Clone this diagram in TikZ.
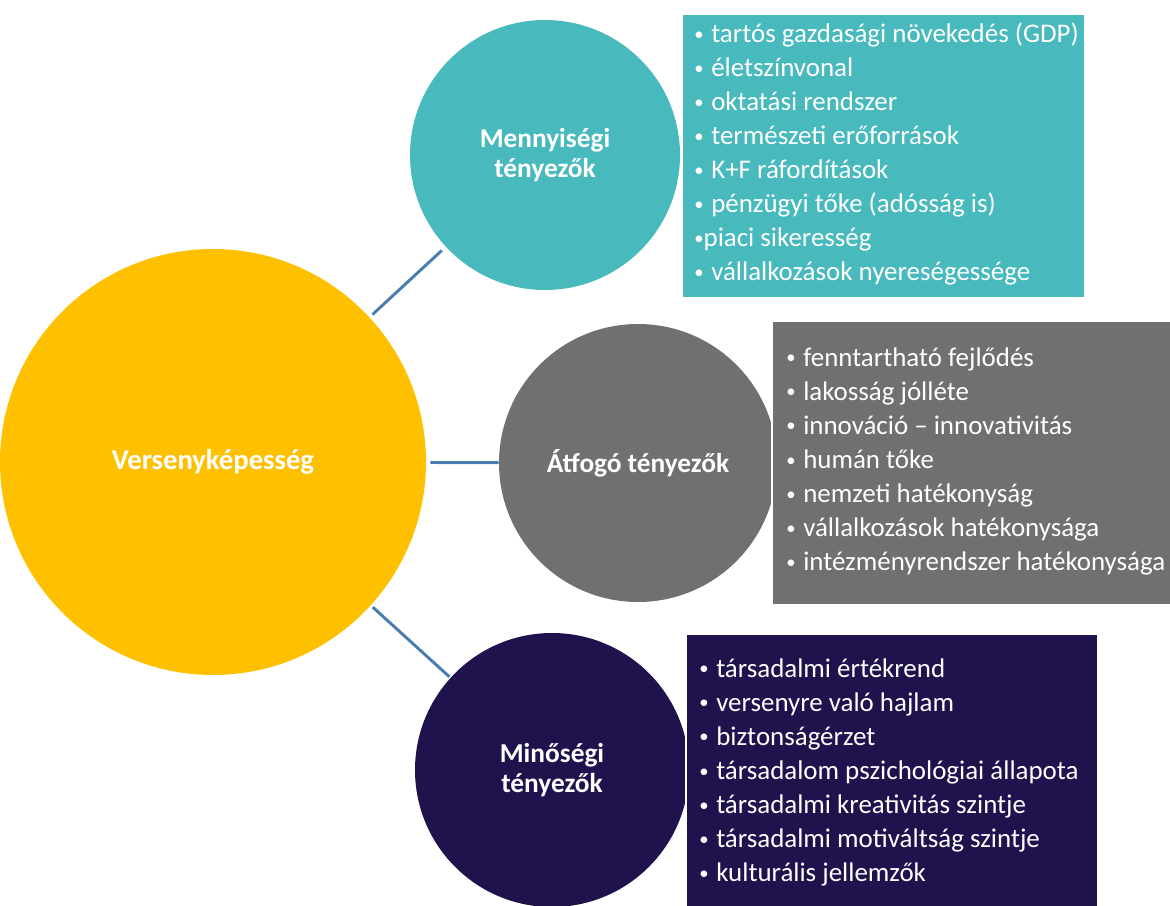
\documentclass[tikz,border=0pt]{standalone}
\usepackage{fontspec}
\setmainfont{Carlito}
\definecolor{sunyellow}{HTML}{FFC000}
\definecolor{tealfill}{HTML}{48B9BC}
\definecolor{greyfill}{HTML}{707070}
\definecolor{inkpurple}{HTML}{20124D}
\definecolor{linkblue}{HTML}{4A7DAF}
% small bullet followed by a fixed gap
\newcommand{\bul}[1]{\makebox[#1][l]{\fontsize{14}{14}\selectfont\raisebox{0.12em}{•}}}
\begin{document}
\begin{tikzpicture}[x=0.75pt,y=-0.75pt,
  bubble/.style={circle, inner sep=0pt, text=white, align=center,
    font=\bfseries\fontsize{20.5}{22.5}\selectfont},
  factbox/.style={rectangle, draw=white, line width=1.2pt, anchor=north west, inner sep=0pt},
  item/.style={anchor=base west, inner sep=0pt, text=white,
    font=\fontsize{20.2}{22}\selectfont},
  link/.style={draw=linkblue, line width=2.2pt}]
\useasboundingbox (0,0) rectangle (1170,906);

% central and factor circles
\node[bubble, fill=sunyellow, minimum size=319.5pt, font=\bfseries\fontsize{21.5}{22.5}\selectfont] (core) at (213,462) {Versenyképesség};
\node[bubble, fill=tealfill, minimum size=202.5pt] (quant) at (545,155) {Mennyiségi\\tényezők};
\node[bubble, fill=greyfill, minimum size=208.5pt] (cross) at (638,463) {Átfogó tényezők};
\node[bubble, fill=inkpurple, minimum size=205.5pt] (qual) at (552,770) {Minőségi\\tényezők};

% connectors
\draw[link, shorten <=3pt, shorten >=4pt] (core) -- (quant);
\draw[link, shorten <=3pt, shorten >=0pt] (core) -- (cross);
\draw[link, shorten <=2pt, shorten >=1pt] (core) -- (qual);

% item boxes
\node[factbox, fill=tealfill, minimum width=302pt, minimum height=213pt] (quantbox) at (681,13) {};
\node[factbox, fill=greyfill, minimum width=302pt, minimum height=213pt] (crossbox) at (771,320) {};
\node[factbox, fill=inkpurple, minimum width=309pt, minimum height=210pt] (qualbox) at (685,633) {};

% quantitative items
\foreach \g/\t [count=\i] in {12.75/tartós gazdasági növekedés (GDP), 12.75/életszínvonal,
    12.75/oktatási rendszer, 12.75/természeti erőforrások, 12.75/K+F ráfordítások,
    12.75/pénzügyi tőke (adósság is), 7/piaci sikeresség, 12.75/vállalkozások nyereségessége}
  \node[item] (q\i) at (694,{43+33.9*(\i-1)}) {\bul{\g pt}\t};

% cross-cutting items
\foreach \t [count=\i] in {fenntartható fejlődés, lakosság jólléte,
    innováció – innovativitás, humán tőke, nemzeti hatékonyság,
    vállalkozások hatékonysága, intézményrendszer hatékonysága}
  \node[item] (c\i) at (786,{366+34.1*(\i-1)}) {\bul{12.75pt}\t};

% qualitative items
\foreach \t [count=\i] in {társadalmi értékrend, versenyre való hajlam,
    biztonságérzet, társadalom pszichológiai állapota,
    társadalmi kreativitás szintje, társadalmi motiváltság szintje,
    kulturális jellemzők}
  \node[item] (m\i) at (699,{677+34.1*(\i-1)}) {\bul{12.75pt}\t};
\end{tikzpicture}
\end{document}
